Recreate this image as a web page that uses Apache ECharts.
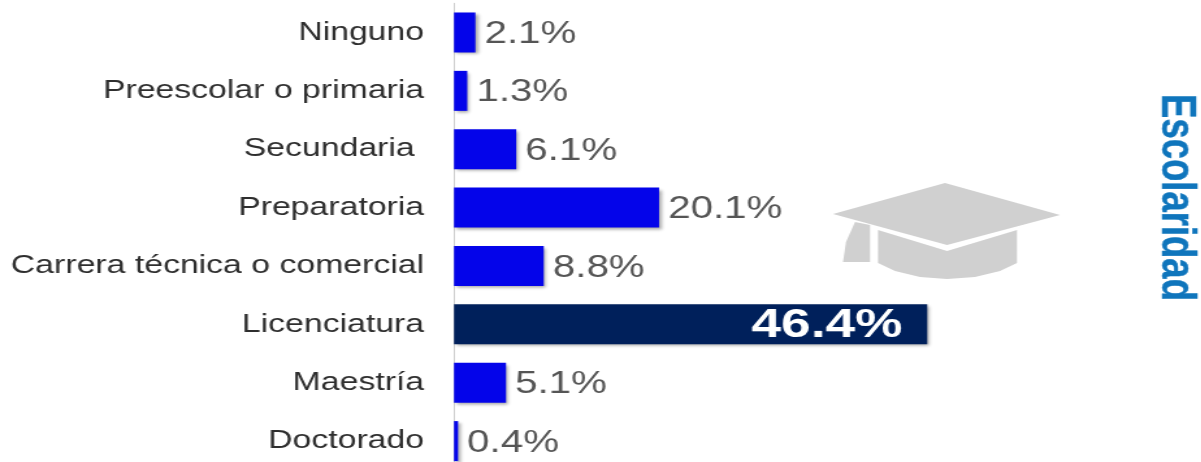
<!DOCTYPE html>
<html><head><meta charset="utf-8">
<style>html,body{margin:0;padding:0;background:#fff;overflow:hidden;width:1201px;height:462px}
#c{width:923.85px;height:462px;transform:scaleX(1.3);transform-origin:0 0}</style>
<script src="https://cdn.jsdelivr.net/npm/echarts@6/dist/echarts.min.js"></script></head>
<body><div id="c"></div>
<script>
const categories=["Ninguno","Preescolar o primaria","Secundaria ","Preparatoria","Carrera técnica o comercial","Licenciatura","Maestría","Doctorado"];
const values=[2.1,1.3,6.1,20.1,8.8,46.4,5.1,0.4];
const highlightIndex=5;
const stretch=1.3;
const capTop=[[833,214],[945,183],[1060,215],[947,245]];
const capBody=[[878,230],[947,251],[1017,230],[1017,263],[1000,271],[975,277],[947,279],[920,277],[895,271],[878,263]];
const capTassel=[[855,222],[870,225],[870,262],[843,262],[846,242]];
const sx=pts=>pts.map(([x,y])=>[x/stretch,y]);
const font='"Liberation Sans",Arial,sans-serif';
const chart=echarts.init(document.getElementById('c'),null,{renderer:'canvas'});
chart.setOption({
 animation:false,
 grid:{left:454/stretch,top:3.3,width:510/stretch,height:467,outerBoundsMode:'none'},
 xAxis:{type:'value',min:0,max:50,show:false},
 yAxis:{type:'category',inverse:true,data:categories,
  axisLine:{show:true,lineStyle:{color:'#cfcfcf',width:1}},axisTick:{show:false},
  axisLabel:{fontFamily:font,fontSize:26,color:'#2e2e2e',margin:23,lineHeight:30,padding:[4,0,0,0]}},
 series:[{type:'bar',barWidth:40,
  data:values.map((v,i)=>({value:v,itemStyle:{color:i===highlightIndex?'#00205b':'#0404ea'},
   label:i===highlightIndex?{position:'insideRight',color:'#fff',fontWeight:'bold',fontSize:41,distance:19,offset:[0,1]}:{}})),
  itemStyle:{shadowColor:'rgba(0,0,0,0.35)',shadowBlur:3,shadowOffsetX:2,shadowOffsetY:2},
  label:{show:true,position:'right',distance:7,offset:[0,2],fontFamily:font,fontSize:31,color:'#555',formatter:p=>p.value.toFixed(1)+'%'}}],
 graphic:[
  {type:'polygon',shape:{points:sx(capTop)},style:{fill:'#d0d0d0'}},
  {type:'polygon',shape:{points:sx(capBody)},style:{fill:'#d0d0d0'}},
  {type:'polygon',shape:{points:sx(capTassel)},style:{fill:'#d0d0d0'}},
  {type:'text',rotation:-Math.PI/2,x:1175.5/stretch,y:197.5,style:{text:'Escolaridad',fontFamily:font,fontSize:36.5,fontWeight:'bold',fill:'#0f75bc',stroke:'#0f75bc',lineWidth:0.4,align:'center',verticalAlign:'middle'}}
 ]
});
</script></body></html>
